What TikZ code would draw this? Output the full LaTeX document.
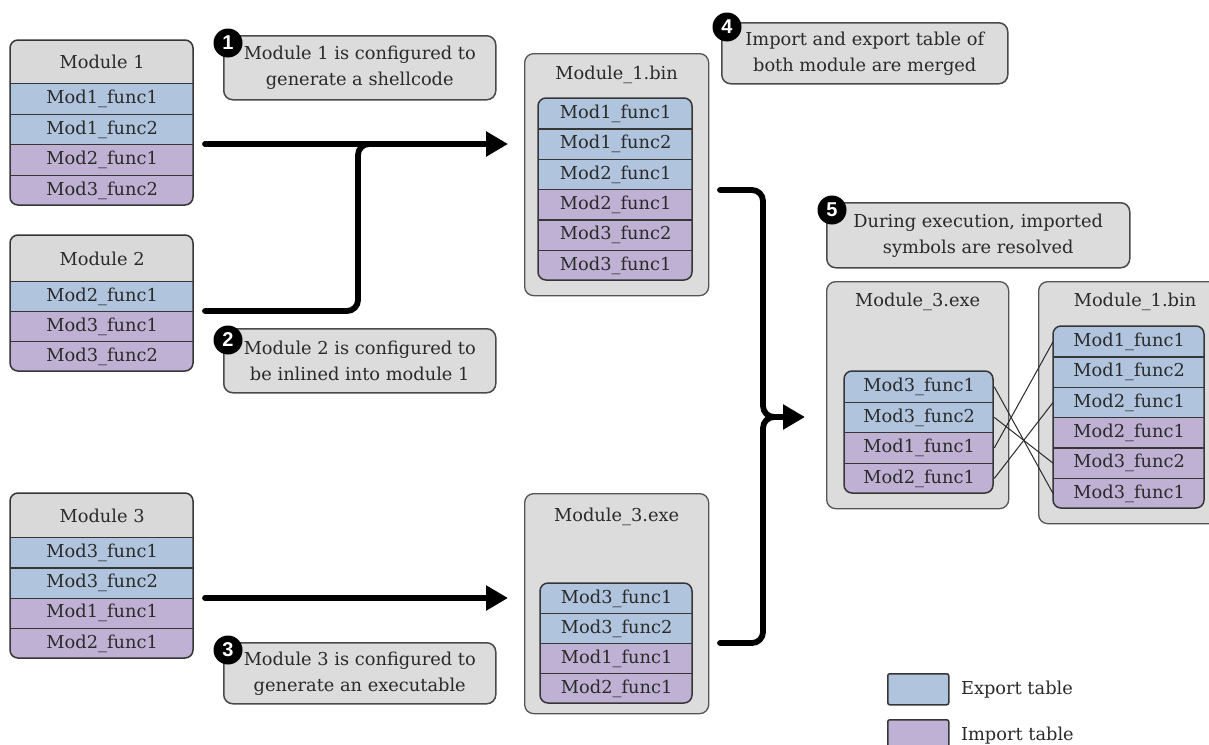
\documentclass[tikz,border=0pt]{standalone}
\usepackage{fontspec}
\setmainfont{DejaVu Serif}
\newfontfamily\badgefont{Liberation Sans}
\usetikzlibrary{arrows.meta}

\definecolor{hdr}{HTML}{D9D9D9}
\definecolor{exp}{HTML}{B0C4DE}
\definecolor{imp}{HTML}{BFB1D3}
\definecolor{edge}{HTML}{363636}
\definecolor{ink}{HTML}{2A2A2A}
\definecolor{panel}{HTML}{DCDCDC}

\tikzset{
  txt/.style={text=ink, font=\fontsize{17.8}{26}\selectfont},
  cell/.style={txt, draw=edge, line width=1.3pt, inner sep=0pt, anchor=north west},
  tableframe/.style={draw=edge, line width=1.5pt, rounded corners=8pt},
  container/.style={draw=edge!85, fill=panel, line width=1.3pt, rounded corners=9pt,
    inner sep=0pt, anchor=north west},
  note/.style={txt, align=center, draw=edge!90, fill=panel, line width=1.5pt,
    rounded corners=9pt, inner sep=0pt, anchor=north west},
  badge/.style={circle, fill=black, text=white, inner sep=0pt, minimum size=29pt,
    font=\badgefont\bfseries\fontsize{20}{20}\selectfont},
  flow/.style={draw=black, line width=5.8pt, line cap=round, rounded corners=11pt},
  flowtip/.style={-{Triangle[length=22pt,width=24pt]}},
  link/.style={draw=ink, line width=1pt},
  key/.style={draw=edge, line width=1.5pt, rounded corners=2pt, inner sep=0pt,
    minimum width=61pt, minimum height=31pt, anchor=north west},
}

% A table of symbols: rows stacked from the top, clipped to a rounded frame.
% #1 name, #2 left, #3 top, #4 right, #5 bottom, #6 rows as colour/text/height
\newcommand\symtable[6]{%
  \begin{scope}
    \clip[rounded corners=8pt] (#2,#3) rectangle (#4,#5);
    \xdef\rowtop{#3}
    \foreach \rowfill/\rowtext/\rowh [count=\i] in {#6} {
      \node[cell, fill=\rowfill, minimum width={#4-#2}, minimum height=\rowh]
        (#1-\i) at (#2,\rowtop) {\rowtext};
      \pgfmathsetmacro\nexttop{\rowtop+\rowh}
      \xdef\rowtop{\nexttop}
    }
  \end{scope}
  \draw[tableframe] (#2,#3) rectangle (#4,#5);
}

\begin{document}
\begin{tikzpicture}[x=1pt, y=-1pt]
  \useasboundingbox (0,0) rectangle (1209,744);
  \clip (0,0) rectangle (1209,744);

  % source modules
  \symtable{mA}{10}{40}{193}{205}{hdr/Module 1/43, exp/Mod1\_func1/30.5, exp/Mod1\_func2/30.5,
    imp/Mod2\_func1/30.5, imp/Mod3\_func2/30.5}
  \symtable{mB}{10}{235}{193}{371}{hdr/Module 2/46, exp/Mod2\_func1/30, imp/Mod3\_func1/30,
    imp/Mod3\_func2/30}
  \symtable{mC}{10}{493}{193}{658}{hdr/Module 3/44, exp/Mod3\_func1/30.25, exp/Mod3\_func2/30.25,
    imp/Mod1\_func1/30.25, imp/Mod2\_func1/30.25}

  % built artefacts
  \node[container, minimum width=184pt, minimum height=242pt] (binA) at (524,53) {};
  \node[txt] (binA-title) at ([yshift=-22pt]binA.north) {Module\_1.bin};
  \symtable{bA}{538}{98}{692}{280}{exp/Mod1\_func1/30.33, exp/Mod1\_func2/30.33,
    exp/Mod2\_func1/30.33, imp/Mod2\_func1/30.33, imp/Mod3\_func2/30.33, imp/Mod3\_func1/30.35}

  \node[container, minimum width=184pt, minimum height=220pt] (exeA) at (524,493) {};
  \node[txt] (exeA-title) at ([yshift=-24pt]exeA.north) {Module\_3.exe};
  \symtable{eA}{540}{583}{692}{703}{exp/Mod3\_func1/30, exp/Mod3\_func2/30,
    imp/Mod1\_func1/30, imp/Mod2\_func1/30}

  % runtime view
  \node[container, minimum width=182pt, minimum height=227pt] (exeB) at (826,281) {};
  \node[txt] (exeB-title) at ([yshift=-21pt]exeB.north) {Module\_3.exe};
  \symtable{eB}{844}{371}{993}{493}{exp/Mod3\_func1/30.5, exp/Mod3\_func2/30.5,
    imp/Mod1\_func1/30.5, imp/Mod2\_func1/30.5}

  \node[container, minimum width=190pt, minimum height=242pt] (binB) at (1038,281) {};
  \node[txt] (binB-title) at (1135,302) {Module\_1.bin};
  \symtable{bB}{1053}{326}{1204}{508}{exp/Mod1\_func1/30.33, exp/Mod1\_func2/30.33,
    exp/Mod2\_func1/30.33, imp/Mod2\_func1/30.33, imp/Mod3\_func2/30.33, imp/Mod3\_func1/30.35}

  % symbol resolution
  \draw[link] (eB-1.east) -- (bB-6.west);
  \draw[link] (eB-2.east) -- (bB-5.west);
  \draw[link] (eB-3.east) -- (bB-1.west);
  \draw[link] (eB-4.east) -- (bB-3.west);

  % steps
  \node[note, minimum width=272pt, minimum height=64pt] (n1) at (223,35)
    {Module 1 is configured to\\generate a shellcode};
  \node[badge] (k1) at ([xshift=5pt,yshift=-8pt]n1.north west) {1};
  \node[note, minimum width=272pt, minimum height=64pt] (n2) at (223,328)
    {Module 2 is configured to\\be inlined into module 1};
  \node[badge] (k2) at ([xshift=5pt,yshift=-12pt]n2.north west) {2};
  \node[note, minimum width=272pt, minimum height=61pt] (n3) at (223,642)
    {Module 3 is configured to\\generate an executable};
  \node[badge] (k3) at ([xshift=5pt,yshift=-8pt]n3.north west) {3};
  \node[note, minimum width=286pt, minimum height=61pt] (n4) at (721,22)
    {Import and export table of\\both module are merged};
  \node[badge] (k4) at ([xshift=6pt,yshift=-5pt]n4.north west) {4};
  \node[note, minimum width=303pt, minimum height=65pt] (n5) at (826,202)
    {During execution, imported\\symbols are resolved};
  \node[badge] (k5) at ([xshift=6pt,yshift=-8pt]n5.north west) {5};

  % build flow
  \coordinate (f1s) at (205,144);
  \coordinate (f1e) at (508,144);
  \coordinate (f2s) at (205,311);
  \coordinate (f2b) at (358,144);
  \coordinate (f2j) at (400,144);
  \coordinate (f3s) at (205,598);
  \coordinate (f3e) at (508,598);
  \draw[flow, flowtip] (f1s) -- (f1e);
  \draw[flow] (f2s) -| (f2b) -- (f2j);
  \draw[flow, flowtip] (f3s) -- (f3e);

  % both artefacts meet at run time
  \coordinate (g1s) at (720,190);
  \coordinate (g2s) at (720,643);
  \coordinate (gm) at (763,417);
  \coordinate (gj) at (786,417);
  \coordinate (gt) at (805,417);
  \draw[flow] (g1s) -| (gm) -- (gj);
  \draw[flow, flowtip] (g2s) -| (gm) -- (gt);

  % legend
  \node[key, fill=exp] (kE) at (887,673) {};
  \node[txt, anchor=west] (kE-text) at ([xshift=8pt]kE.east) {Export table};
  \node[key, fill=imp] (kI) at (887,719) {};
  \node[txt, anchor=west] (kI-text) at ([xshift=8pt]kI.east) {Import table};
\end{tikzpicture}
\end{document}
